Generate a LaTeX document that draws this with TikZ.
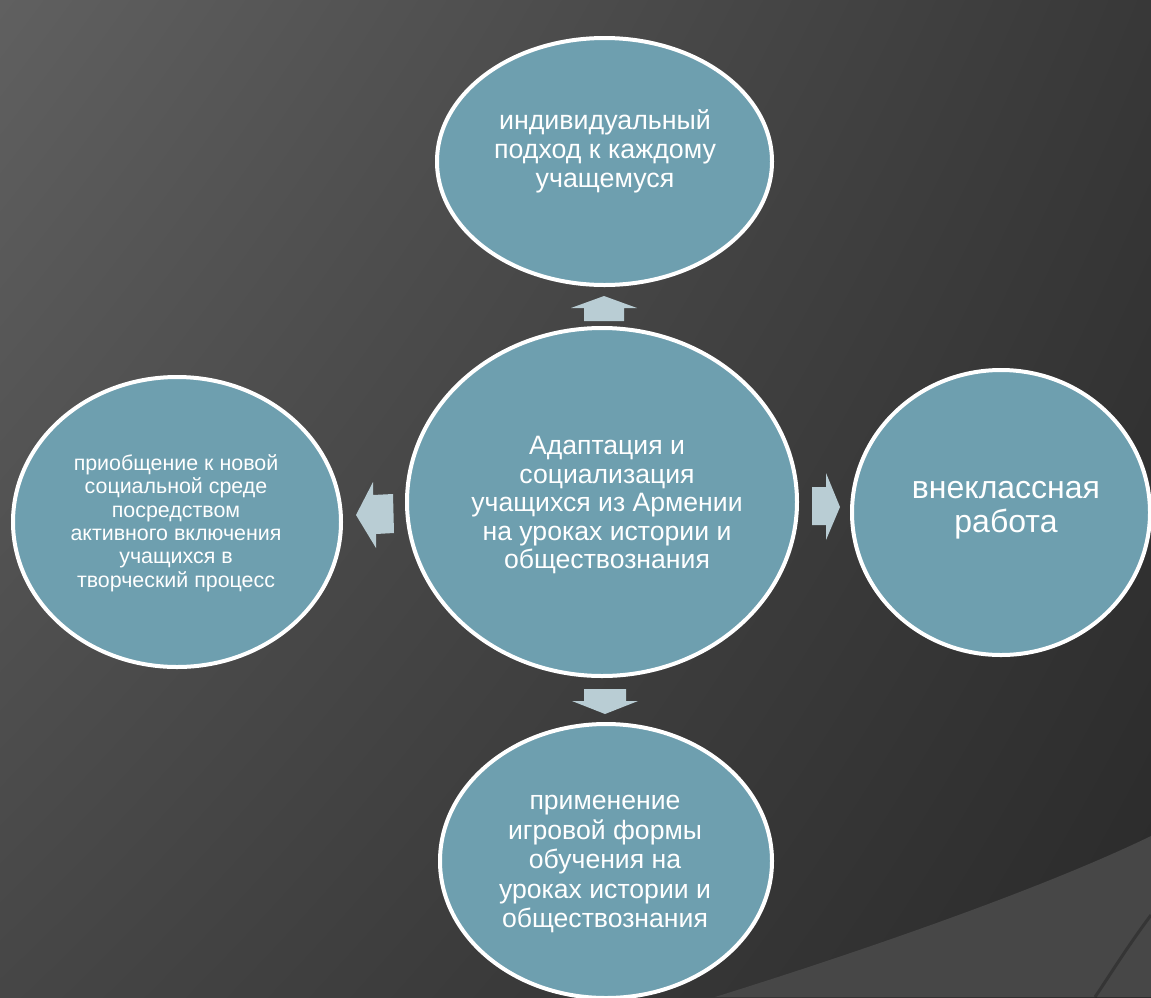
\documentclass[tikz,border=0pt]{standalone}
\usepackage{fontspec}
\setmainfont{Liberation Sans}
\usetikzlibrary{shapes.geometric, shadings}

\definecolor{bubblefill}{HTML}{6E9FAF}
\definecolor{arrowfill}{HTML}{B9CDD4}
\definecolor{bgA}{HTML}{606060}
\definecolor{bgB}{HTML}{383838}
\definecolor{bgC}{HTML}{464646}
\definecolor{bgD}{HTML}{2A2A2A}
\definecolor{swoosh}{HTML}{474747}

\begin{document}
\begin{tikzpicture}[x=0.5pt, y=-0.5pt,
	bubble/.style={ellipse, draw=white, line width=2pt, fill=bubblefill, inner sep=0pt},
	bubbletext/.style={text=white, align=center, inner sep=0pt},
	blockarrow/.style={fill=arrowfill}]
\useasboundingbox (0,0) rectangle (1151,997);
\clip (0,0) rectangle (1151,997);

% background
\shade[upper left=bgA, upper right=bgB, lower left=bgC, lower right=bgD] (0,0) rectangle (1151,997);
\fill[swoosh] (715,997) .. controls (850,955) and (1040,890) .. (1151,836) -- (1151,997) -- cycle;
\draw[black, opacity=.25, line width=1.5pt] (1151,915) .. controls (1125,950) and (1110,975) .. (1095,997);

% bubbles
\node[bubble, minimum width=195pt, minimum height=174pt] (centre) at (602,502) {};
\node[bubble, minimum width=167.5pt, minimum height=123.5pt] (top) at (604.5,161.5) {};
\node[bubble, minimum width=164pt, minimum height=145pt] (left) at (177,522) {};
\node[bubble, minimum width=149pt, minimum height=142.5pt] (right) at (1001,512.5) {};
\node[bubble, minimum width=166pt, minimum height=137pt] (bottom) at (606,861) {};

\node[bubbletext, font=\fontsize{13.3}{14.25}\selectfont] (centre text) at (607,505)
	{Адаптация и\\социализация\\учащихся из Армении\\на уроках истории и\\обществознания};
\node[bubbletext, font=\fontsize{13.4}{14.5}\selectfont] (top text) at (605,151)
	{индивидуальный\\подход к каждому\\учащемуся};
\node[bubbletext, font=\fontsize{10.7}{11.7}\selectfont] (left text) at (176,523)
	{приобщение к новой\\социальной среде\\посредством\\активного включения\\учащихся в\\творческий процесс};
\node[bubbletext, font=\fontsize{16}{17}\selectfont] (right text) at (1006,510)
	{внеклассная\\работа};
\node[bubbletext, font=\fontsize{13.3}{14.75}\selectfont] (bottom text) at (605,864)
	{применение\\игровой формы\\обучения на\\уроках истории и\\обществознания};

% arrows
\coordinate (up tip) at (604,296);
\coordinate (down tip) at (605,714);
\coordinate (right tip) at (840,507);
\coordinate (left tip) at (356,515);
\fill[blockarrow] (up tip) -- ++(33,12) -- ++(-13,0) -- ++(0,13) -- ++(-40,0) -- ++(0,-13) -- ++(-13,0) -- cycle;
\fill[blockarrow] (down tip) -- ++(33,-13) -- ++(-12,0) -- ++(0,-12) -- ++(-42,0) -- ++(0,12) -- ++(-12,0) -- cycle;
\fill[blockarrow] (right tip) -- ++(-14,-34) -- ++(0,14) -- ++(-14,0) -- ++(0,38) -- ++(14,0) -- ++(0,15) -- cycle;
\fill[blockarrow] (left tip) -- ++(17,-33) -- ++(0,13) -- ++(20,-1) -- ++(1,39) -- ++(-18,1) -- ++(0,14) -- cycle;
\end{tikzpicture}
\end{document}
